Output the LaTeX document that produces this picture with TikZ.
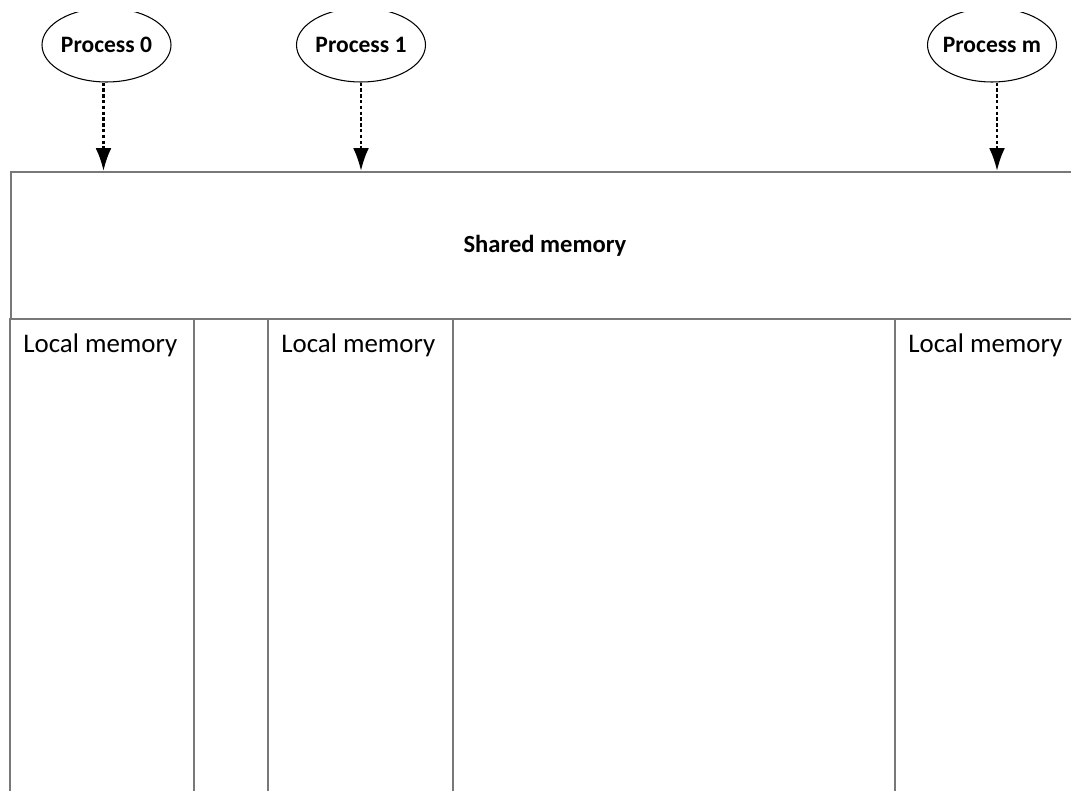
\documentclass[tikz,border=0pt]{standalone}
\usepackage{fontspec}
\setmainfont{Carlito}
\usetikzlibrary{arrows.meta,positioning,calc,shapes.geometric}
\definecolor{MEM-GRAY}{RGB}{120, 120, 120}

\tikzset{
  proc/.style={ellipse, draw=black, line width=0.6pt, minimum width=2.58cm,
    minimum height=1.48cm, inner xsep=-0.4cm, inner ysep=0pt,
    font=\fontsize{13.4}{15}\selectfont\bfseries},
  access/.style={-{Latex[length=13pt,width=9pt]}, line width=1.4pt,
    dash pattern=on 2pt off 1.3pt},
  memline/.style={draw=MEM-GRAY, line width=1.1pt},
  localtext/.style={anchor=base west, inner sep=0pt, font=\fontsize{15.3}{17}\selectfont}
}

\begin{document}
\begin{tikzpicture}
  \useasboundingbox (0,0) rectangle (21.42,15.82);
  \clip (0,0) rectangle (21.42,15.56);

  % Shared memory block (runs off the right edge)
  \node[memline, draw, rectangle, minimum width=21.36cm, minimum height=2.94cm,
    inner sep=0pt, anchor=north west, font=\fontsize{14}{16}\selectfont\bfseries]
    (shm) at (0.2,12.4) {Shared memory};

  % Local memory columns
  \foreach \xx in {0.2,3.88,5.36,9.06,17.9}
    \draw[memline] (\xx,9.46) -- (\xx,-0.3);
  \node[localtext] (lm0) at (0.46,8.76) {Local memory};
  \node[localtext] (lm1) at (5.62,8.76) {Local memory};
  \node[localtext] (lmm) at (18.16,8.76) {Local memory};

  % Processes
  \node[proc] (p0) at (2.13,14.92) {Process 0};
  \node[proc] (p1) at (7.22,14.92) {Process 1};
  \node[proc] (pm) at (19.84,14.92) {Process m};

  % Accesses to shared memory
  \draw[access] ([xshift=-0.06cm]p0.south) -- ([xshift=-0.06cm]p0.south |- shm.north);
  \draw[access] (p1.south) -- (p1.south |- shm.north);
  \draw[access] ([xshift=0.1cm]pm.south) -- ([xshift=0.1cm]pm.south |- shm.north);
\end{tikzpicture}
\end{document}
